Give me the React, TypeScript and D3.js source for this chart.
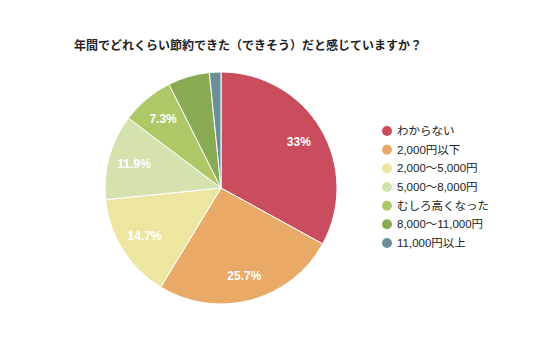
import React from "react";
import * as d3 from "d3";

const categories = ["わからない", "2,000円以下", "2,000～5,000円", "5,000～8,000円", "むしろ高くなった", "8,000～11,000円", "11,000円以上"];
const values = [33, 25.7, 14.7, 11.9, 7.3, 5.8, 1.6];
const sliceLabels = ["33%", "25.7%", "14.7%", "11.9%", "7.3%", "", ""];
const colors = ["#c94d5d", "#e8aa66", "#ede6a0", "#d4e2ae", "#aec767", "#87aa52", "#6b8f99"];
const title = "年間でどれくらい節約できた（できそう）だと感じていますか？";

export default function App() {
  const W = 536, H = 357;
  const cx = 221, cy = 188, r = 116;
  const pie = d3.pie<number>().sort(null).value((d) => d);
  const arcs = pie(values);
  const arc = d3.arc<d3.PieArcDatum<number>>().innerRadius(0).outerRadius(r);
  const labelArc = d3.arc<d3.PieArcDatum<number>>().innerRadius(r * 0.78).outerRadius(r * 0.78);
  const legendY = d3.scalePoint<number>().domain(d3.range(categories.length)).range([131, 243]);
  const font = "Arial, 'Liberation Sans', 'Noto Sans CJK JP', sans-serif";
  return (
    <svg width={W} height={H} style={{ position: "absolute", left: 0, top: 0, background: "#fff" }} fontFamily={font}>
      <text x={248} y={50} textAnchor="middle" fontSize={12} fontWeight="bold" fill="#222">{title}</text>
      <g transform={`translate(${cx},${cy})`}>
        {arcs.map((a, i) => (
          <path key={i} d={arc(a) || ""} fill={colors[i]} stroke="#fff" strokeWidth={1} />
        ))}
        {arcs.map((a, i) => {
          const [x, y] = labelArc.centroid(a);
          return sliceLabels[i] ? (
            <text key={i} x={x} y={y} dy="0.35em" textAnchor="middle" fontSize={12} fontWeight="bold" fill="#fff">{sliceLabels[i]}</text>
          ) : null;
        })}
      </g>
      {categories.map((c, i) => (
        <g key={i} transform={`translate(0,${legendY(i)})`}>
          <circle cx={387} cy={0} r={5} fill={colors[i]} />
          <text x={397} y={0} dy="0.35em" fontSize={11.5} fill="#222">{c}</text>
        </g>
      ))}
    </svg>
  );
}
